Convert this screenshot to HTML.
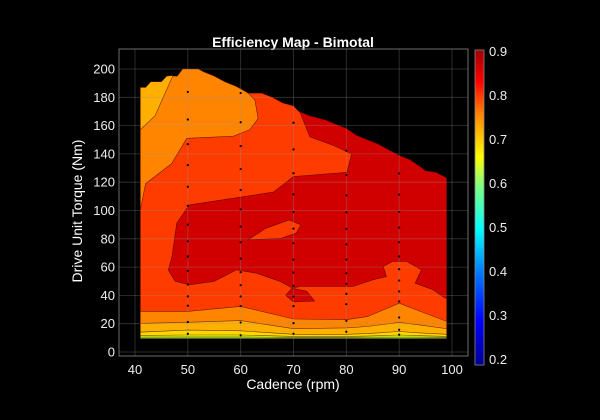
<!DOCTYPE html>
<html><head><meta charset="utf-8"><style>
html,body{margin:0;padding:0;background:#000;}
svg{display:block;font-family:"Liberation Sans",sans-serif;}
</style></head><body>
<svg id="chart" width="600" height="420" viewBox="0 0 600 420">
<rect width="600" height="420" fill="#000"/>
<text x="293" y="47" fill="#fff" font-size="14" font-weight="bold" text-anchor="middle">Efficiency Map - Bimotal</text>
<g id="plot"></g>
<text x="293" y="389" fill="#fff" font-size="14" text-anchor="middle">Cadence (rpm)</text>
<text transform="translate(82,211) rotate(-90)" fill="#fff" font-size="14" text-anchor="middle">Drive Unit Torque (Nm)</text>
<defs><linearGradient id="jet" x1="0" y1="1" x2="0" y2="0">
<stop offset="0" stop-color="#00008f"/><stop offset="0.14" stop-color="#0000ff"/>
<stop offset="0.3" stop-color="#0080ff"/><stop offset="0.43" stop-color="#00ffff"/>
<stop offset="0.57" stop-color="#80ff80"/><stop offset="0.66" stop-color="#ffff00"/>
<stop offset="0.8" stop-color="#ff8000"/><stop offset="0.9" stop-color="#ff0000"/>
<stop offset="1" stop-color="#a00000"/></linearGradient></defs>
<rect x="475" y="50" width="9" height="315" fill="url(#jet)" stroke="#888" stroke-width="0.8"/>
<g id="cbticks"></g>
</svg>
<script>
const xTicks=[40,50,60,70,80,90,100];
const yTicks=[0,20,40,60,80,100,120,140,160,180,200];
const cbTicks=[0.2,0.3,0.4,0.5,0.6,0.7,0.8,0.9];
const envelope=[[41,10],[41,187],[42,187],[43,191],[45,191],[46,195],[48,195],[49,200],[52,200],[53,198],[55,195],[57,191],[59,188],[60,186],[61,183],[64,183],[66,180],[68,176],[70,174],[71,170],[73,167],[75,165],[76,164],[78,161],[80,158],[82,153],[84,150],[86,147],[88,143],[90,139],[92,136],[94,131],[95,128],[97,127],[99,123],[99,10]];
const orangeTop=[[41,100.4],[42,119],[46.9,133],[49.8,151],[58.6,152.5],[61.7,157],[63.3,165],[62.7,178],[61.4,183],[60,186],[59,188],[57,191],[55,195],[53,198],[52,200],[49,200],[48,195],[46,195],[45,191],[43,191],[42,187],[41,187]];
const lightOrangeTop=[[41,187],[42,187],[43,191],[45,191],[46,195],[47.2,195.5],[43.8,167],[41,157]];
const coreRed=[[71.2,169.7],[73.1,152],[77.5,146],[81,140],[80.1,127],[70,124],[66.2,113],[50.4,104],[49.5,100],[47.9,91],[47,67.5],[46.3,58],[47.6,50],[50.4,47.5],[55,50],[59.2,58],[63,55.7],[67.4,50],[69.9,45],[71.2,46.3],[77.5,46.3],[81.3,46.3],[85,51],[87.6,53.3],[87,60.4],[88.8,64],[91.4,64],[94.2,58],[93,48.6],[96.4,44],[98.7,38],[99,38],[99,123],[97,127],[95,128],[94,131],[92,136],[90,139],[88,143],[86,147],[84,150],[82,153],[80,158],[78,161],[76,164],[75,165],[73,167]];
const islandMid=[[61.4,79.2],[64.8,87.4],[69.2,93.3],[71.4,89.8],[70.5,84],[67.7,80.4]];
const blob70=[[69.7,45],[72.5,43],[74,36],[70,35.5],[68.5,40]];
const bandCad=[41,50,60,70,80,84,90,94,99];
const band075=[28.7,28.7,32.2,23.3,22.8,25,34.5,28.7,21.6];
const band070=[20.2,21,22.2,16.5,17,18,20.9,19,16.5];
const band065=[14,15.5,15,12.5,12.5,13,14.5,13.5,12.5];
const band060=[11.7,12,12,11,11,11.3,12,11.5,11];
const band055=[10.6,10.7,10.7,10.4,10.4,10.5,10.6,10.5,10.4];
const dotCad=[50,60,70,80,90];
const dotTorque=[
[183.8,164.3,146.9,132.1,116.8,103.4,90,78.3,67.5,57.3,47.7,39.3,32.7,21.2,12.9],
[183,162.4,145.5,129.3,114.5,100.8,88.6,77.6,66,56.4,47.2,39.2,32.4,20.9,11.8],
[162,143.2,126.3,111.4,99,87.2,76.9,65.3,56.2,46.8,39.2,32.4,20.4,12.9],
[142.2,125,110.7,98.7,87,76.1,65.3,55.7,48.2,41.1,33.8,22.1,14.3],
[126.2,111.2,99,87.9,77.6,67.5,58.5,50.5,42.8,35.7,24.4,15.7,12.2]];
const L=119,R=468,T=49,B=356;
const xs=v=>135+(v-40)*(452-135)/60;
const ys=v=>352-v*(352-69)/200;
const cs=v=>359-(v-0.2)*(359-51)/0.7;
const NS='http://www.w3.org/2000/svg';
const plot=document.getElementById('plot');
function mk(tag,attrs,parent){const e=document.createElementNS(NS,tag);for(const k in attrs)e.setAttribute(k,attrs[k]);(parent||plot).appendChild(e);return e;}
function pts(arr){return arr.map(p=>xs(p[0]).toFixed(1)+','+ys(p[1]).toFixed(1)).join(' ');}
function poly(arr,fill,name){const e=mk('polygon',{points:pts(arr),fill:fill,stroke:'#300','stroke-width':0.6,'stroke-opacity':0.7});

return e;}
function band(vals){const top=bandCad.map((c,i)=>[c,vals[i]]);return [[41,9.5],...top,[99,9.5]];}
poly(envelope,'#ff3c00','region-080-085');
poly(orangeTop,'#ff8400','region-075-080-top');
poly(lightOrangeTop,'#ffaf00','region-070-075-top');
poly(coreRed,'#d00000','region-085-090');
poly(islandMid,'#ff3c00','island-080-085');
poly(blob70,'#d00000','blob-085-090');
poly(band(band075),'#ff8400','band-075-080');
poly(band(band070),'#ffaf00','band-070-075');
poly(band(band065),'#ffd800','band-065-070');
poly(band(band060),'#f0ff00','band-060-065');
poly(band(band055),'#90e040','band-055-060');
// grid
xTicks.forEach(v=>{const g=mk('line',{x1:xs(v),x2:xs(v),y1:T,y2:B,stroke:'#999','stroke-opacity':0.35,'stroke-width':0.8});


const t=mk('text',{x:xs(v),y:374,fill:'#eee','font-size':13,'text-anchor':'middle'});t.textContent=v;

});
yTicks.forEach(v=>{const g=mk('line',{x1:L,x2:R,y1:ys(v),y2:ys(v),stroke:'#999','stroke-opacity':0.35,'stroke-width':0.8});


const t=mk('text',{x:L-4,y:ys(v)+4.5,fill:'#eee','font-size':13,'text-anchor':'end'});t.textContent=v;

});
dotCad.forEach((c,i)=>dotTorque[i].forEach(tq=>{const d=mk('circle',{cx:xs(c),cy:ys(tq),r:1.1,fill:'#000'});

}));
const box=mk('rect',{x:L,y:T,width:R-L,height:B-T,fill:'none',stroke:'#888','stroke-width':0.8});


const cb=document.getElementById('cbticks');
cbTicks.forEach(v=>{const t=mk('text',{x:489,y:cs(v)+5,fill:'#eee','font-size':13},cb);t.textContent=v.toFixed(1);

});
</script>
</body></html>
